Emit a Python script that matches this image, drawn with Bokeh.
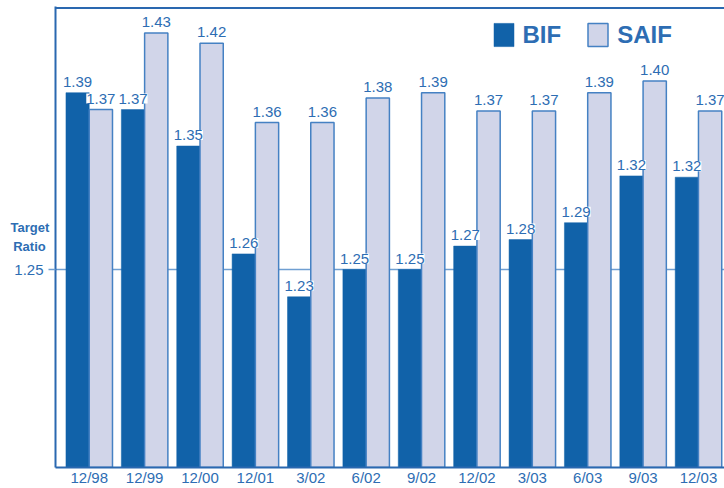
from bokeh.plotting import figure
from bokeh.models import (ColumnDataSource, Range1d, FixedTicker, LabelSet,
                          Span, Legend, LegendItem)
from bokeh.transform import dodge
from bokeh.core.properties import value
from bokeh.embed import file_html
from bokeh.resources import INLINE

# ---- data ----
categories = ["12/98", "12/99", "12/00", "12/01", "3/02", "6/02",
              "9/02", "12/02", "3/03", "6/03", "9/03", "12/03"]
bif = [1.386, 1.373, 1.345, 1.262, 1.229, 1.250,
       1.250, 1.268, 1.273, 1.286, 1.322, 1.321]
saif = [1.373, 1.432, 1.424, 1.363, 1.363, 1.382,
        1.386, 1.372, 1.372, 1.386, 1.395, 1.372]
bif_labels = ["1.39", "1.37", "1.35", "1.26", "1.23", "1.25",
              "1.25", "1.27", "1.28", "1.29", "1.32", "1.32"]
saif_labels = ["1.37", "1.43", "1.42", "1.36", "1.36", "1.38",
               "1.39", "1.37", "1.37", "1.39", "1.40", "1.37"]
target = 1.25
target_title = "Target\nRatio\u00a0"
series_names = ["BIF", "SAIF"]

# ---- styles ----
FONT = "Liberation Sans"
BIF_COLOR = "#1162a9"
SAIF_FILL = "#d1d5e9"
SAIF_LINE = "#4581c3"
TEXT_COLOR = "#2d6db3"
FRAME_COLOR = "#2a68b0"
TARGET_COLOR = "#6f9fd2"

W, H = 724, 488
TOP, BOTTOM, LEFT = 6, 21, 55
FRAME_H = H - TOP - BOTTOM
PX_PER_UNIT = 1300.0
TARGET_PX = 269
y_end = target + (TARGET_PX - TOP) / PX_PER_UNIT
y_start = y_end - FRAME_H / PX_PER_UNIT

x_start, x_end = -0.609, 11.47

src = ColumnDataSource(dict(
    x=list(range(len(categories))), cat=categories,
    bif=bif, saif=saif, bif_lab=bif_labels, saif_lab=saif_labels,
))

p = figure(width=W, height=H, output_backend="svg", toolbar_location=None,
           x_range=Range1d(x_start, x_end), y_range=Range1d(y_start, y_end),
           min_border_left=LEFT, min_border_right=0, min_border_top=TOP,
           min_border_bottom=BOTTOM)
p.outline_line_color = None
p.xgrid.visible = False
p.ygrid.visible = False
p.background_fill_color = "white"
p.border_fill_color = "white"

# target line
p.add_layout(Span(location=target, dimension="width", line_color=TARGET_COLOR,
                  line_width=1.5, level="underlay"))

bw = 0.42
r1 = p.vbar(x=dodge("x", -bw / 2), top="bif", bottom=0, width=bw, source=src,
            fill_color=BIF_COLOR, line_color=BIF_COLOR, line_width=0.5)
r2 = p.vbar(x=dodge("x", bw / 2), top="saif", bottom=0, width=bw, source=src,
            fill_color=SAIF_FILL, line_color=SAIF_LINE, line_width=1.5)

for col, lab, off in (("bif", "bif_lab", -bw / 2), ("saif", "saif_lab", bw / 2)):
    p.add_layout(LabelSet(x=dodge("x", off), y=col, text=lab, source=src,
                          y_offset=6, text_align="center", text_baseline="bottom",
                          text_font=value(FONT), text_font_size=value("15px"),
                          text_color=value(TEXT_COLOR),
                          background_fill_color="white"))

# top frame line
p.add_layout(Span(location=target + (TARGET_PX - 7.5) / PX_PER_UNIT,
                  dimension="width", line_color=FRAME_COLOR, line_width=2))

# axes
xa = p.xaxis[0]
xa.ticker = FixedTicker(ticks=list(range(len(categories))))
xa.major_label_overrides = {i: c for i, c in enumerate(categories)}
xa.major_tick_out = 0
xa.major_tick_in = 0
xa.minor_tick_line_color = None
xa.axis_line_color = FRAME_COLOR
xa.axis_line_width = 2
xa.major_label_text_font = FONT
xa.major_label_text_font_size = "15px"
xa.major_label_text_color = TEXT_COLOR
xa.major_label_standoff = 1

ya = p.yaxis[0]
ya.ticker = FixedTicker(ticks=[target])
ya.major_label_overrides = {target: f"{target:.2f}"}
ya.major_tick_out = 7
ya.major_tick_in = 0
ya.major_tick_line_color = TARGET_COLOR
ya.major_tick_line_width = 1.5
ya.minor_tick_line_color = None
ya.axis_line_color = FRAME_COLOR
ya.axis_line_width = 2
ya.major_label_text_font = FONT
ya.major_label_text_font_size = "15px"
ya.major_label_text_color = TEXT_COLOR
ya.major_label_standoff = 5

# "Target Ratio" as a horizontal axis title pulled over the tick-label column
ya.axis_label = target_title
ya.axis_label_text_font = FONT
ya.axis_label_text_font_size = "13px"
ya.axis_label_text_font_style = "bold"
ya.axis_label_text_color = TEXT_COLOR
ya.axis_label_text_align = "center"
ya.axis_label_text_line_height = 1.25
try:
    ya.axis_label_orientation = "horizontal"
    ya.axis_label_standoff = -38
except AttributeError:
    pass

legend = Legend(items=[LegendItem(label=series_names[0], renderers=[r1]),
                       LegendItem(label=series_names[1], renderers=[r2])],
                orientation="horizontal", location=(435.5, H - BOTTOM - 49),
                glyph_width=25, glyph_height=29, label_height=29,
                label_standoff=7, spacing=24, padding=0, margin=0,
                border_line_color=None, background_fill_alpha=0,
                label_text_font=FONT, label_text_font_size="24px",
                label_text_font_style="bold", label_text_color=TEXT_COLOR)
p.add_layout(legend)

open("out.html", "w").write(file_html(p, INLINE))
